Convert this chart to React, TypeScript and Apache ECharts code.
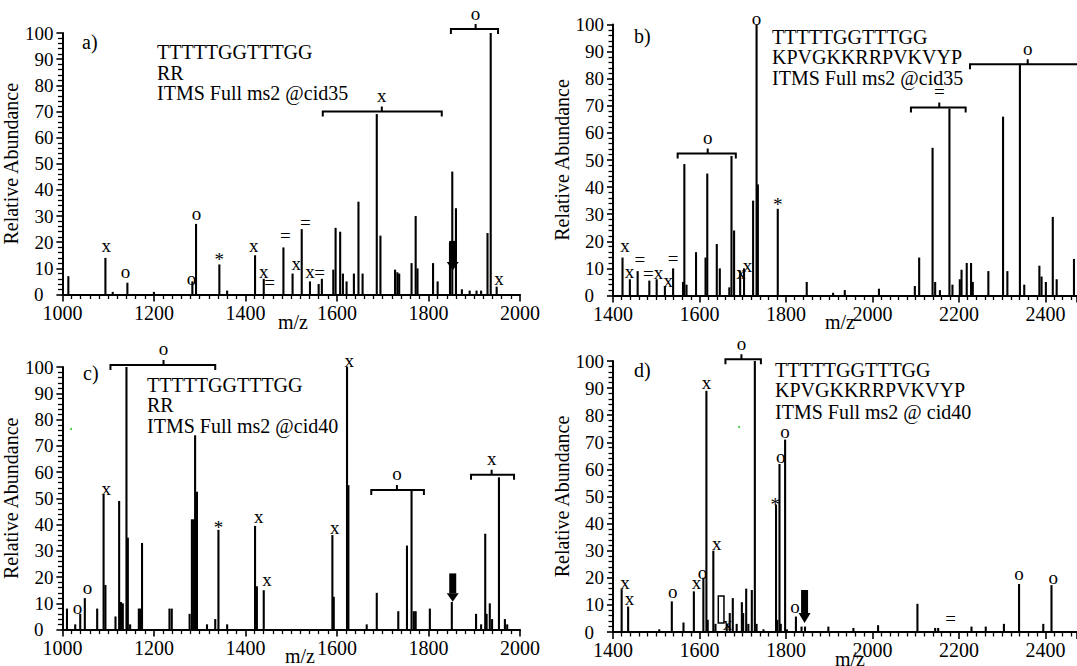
import React, { useEffect, useRef } from "react";
import * as echarts from "echarts";

// ---------- data: peaks [m/z, relative abundance] ----------
const peaksA: [number, number][] = [
  [1013, 7], [1094, 14], [1110, 1], [1142, 4.5], [1200, 1], [1284, 5], [1292, 27], [1343, 11.5], [1360, 1.5],
  [1421, 15], [1440, 6], [1483, 18], [1503, 8], [1523, 25], [1541, 5], [1560, 4], [1567, 6], [1592, 9.5],
  [1597, 25.5], [1607, 24], [1613, 8], [1621, 5], [1637, 8], [1647, 35.5], [1656, 8], [1687, 69], [1695, 22.5],
  [1727, 9.5], [1732, 8.5], [1736, 8], [1763, 12], [1772, 30], [1776, 10], [1810, 12], [1820, 5], [1847, 20],
  [1852, 47], [1860, 33], [1873, 2], [1890, 1.5], [1905, 1.5], [1915, 1.5], [1929, 23.5], [1936, 100], [1949, 3],
];
const peaksB: [number, number][] = [
  [1422, 14], [1439, 6], [1457, 9], [1484, 5.5], [1501, 6], [1520, 3.5], [1539, 10], [1562, 5], [1565, 48.5],
  [1570, 4], [1592, 16], [1614, 14], [1618, 45], [1640, 19], [1647, 10], [1669, 3], [1674, 51.5], [1680, 24],
  [1694, 9], [1703, 10], [1724, 35], [1732, 100], [1735, 41], [1781, 32], [1848, 5], [1909, 1], [1936, 2],
  [2015, 2.5], [2098, 3.5], [2108, 14], [2139, 54.5], [2145, 5], [2156, 2], [2178, 69], [2185, 4], [2202, 6],
  [2206, 9.5], [2218, 12], [2228, 12], [2232, 5], [2268, 9], [2302, 66], [2312, 9], [2341, 85.5], [2351, 4],
  [2386, 11], [2391, 7], [2401, 5], [2417, 29], [2426, 6], [2466, 13.5],
];
const peaksC: [number, number][] = [
  [1010, 8], [1028, 2], [1039, 6], [1049, 12], [1076, 8], [1090, 51.5], [1094, 17], [1116, 5], [1124, 49],
  [1128, 10.5], [1132, 10], [1140, 100], [1143, 35], [1148, 2], [1167, 8], [1170, 8], [1174, 33], [1234, 8],
  [1239, 8], [1278, 6], [1283, 42], [1287, 42], [1290, 74], [1294, 52.5], [1316, 2], [1334, 4], [1341, 38],
  [1360, 2], [1421, 39.5], [1425, 16.5], [1440, 15], [1590, 36], [1593, 12.5], [1622, 100], [1625, 55],
  [1665, 2], [1687, 14], [1734, 7], [1753, 32], [1763, 53], [1768, 7], [1772, 7], [1803, 8], [1851, 10.5],
  [1904, 6], [1915, 2], [1924, 36.5], [1927, 6], [1934, 10], [1939, 4], [1954, 58], [1967, 4], [1972, 2],
];
const peaksD: [number, number][] = [
  [1420, 15.8], [1435, 9.4], [1507, 1], [1536, 11.3], [1563, 3.5], [1587, 15], [1609, 20], [1616, 89],
  [1619, 4.5], [1632, 30], [1637, 3], [1663, 3], [1670, 7], [1677, 12.5], [1686, 3], [1698, 11], [1701, 7],
  [1708, 16], [1713, 3], [1721, 15.5], [1728, 100], [1732, 3], [1748, 1], [1777, 47], [1780, 4.5], [1785, 62],
  [1788, 3], [1798, 71], [1802, 1], [1823, 5.7], [1836, 2], [1844, 2], [1898, 2], [1956, 1.5], [2013, 2.5],
  [2104, 10.4], [2145, 1.5], [2152, 1.5], [2229, 2], [2262, 2], [2304, 3], [2339, 17.7], [2395, 3], [2414, 17.3],
];

// ---------- peak annotations [m/z, abundance, symbol] ----------
const annotA: [number, number, string][] = [
  [1096, 18, "x"], [1138, 8.2, "o"], [1282, 5.3, "o"], [1293, 30.3, "o"], [1343, 14.8, "*"], [1418, 18, "x"],
  [1440, 8.2, "x"], [1453, 4, "="], [1487, 21.8, "="], [1511, 11, "x"], [1531, 26.9, "="], [1541, 8.2, "x"],
  [1562, 7.8, "="], [1954, 5.3, "x"],
];
const annotB: [number, number, string][] = [
  [1428, 17.7, "x"], [1438, 8.3, "x"], [1462, 12.6, "="], [1482, 7.3, "="], [1505, 7.9, "x"], [1528, 4.9, "x"],
  [1539, 12.8, "="], [1696, 7.9, "x"], [1711, 10.4, "x"], [1732, 101.5, "o"], [1781, 35, "*"],
];
const annotC: [number, number, string][] = [
  [1033, 7.5, "o"], [1055, 15.3, "o"], [1096, 52.8, "x"], [1341, 40.5, "*"], [1429, 42.4, "x"], [1447, 18.3, "x"],
  [1595, 38.2, "x"], [1627, 101.8, "x"],
];
const annotD: [number, number, string][] = [
  [1428, 17.7, "x"], [1438, 11.8, "x"], [1538, 14.3, "o"], [1593, 17.7, "x"], [1607, 21.3, "o"], [1616, 91.5, "x"],
  [1640, 31.8, "x"], [1665, 2.5, "x"], [1775, 48.7, "*"], [1788, 64.1, "o"], [1798, 73.4, "o"], [1821, 8.7, "o"],
  [2181, 4.4, "="], [2339, 20.7, "o"], [2418, 19.5, "o"],
];

// ---------- brackets [from m/z, to m/z, notch m/z, abundance, symbol] ----------
const bracketsA: [number, number, number, number, string][] = [
  [1569, 1829, 1698, 70, "x"], [1849, 1952, 1903, 101.5, "o"],
];
const bracketsB: [number, number, number, number, string][] = [
  [1549.5, 1684, 1619, 52.4, "o"], [2089, 2215.5, 2154.5, 69.4, "="], [2225.5, 2700, 2359, 85.3, "o"],
];
const bracketsC: [number, number, number, number, string][] = [
  [1105, 1334, 1221, 100.8, "o"], [1675, 1790, 1731, 53.2, "o"], [1893, 1987, 1938, 59, "x"],
];
const bracketsD: [number, number, number, number, string][] = [[1660, 1742, 1697, 100.6, "o"]];

// ---------- precursor arrows [m/z, top, head start, tip] ----------
const arrowsA: [number, number, number, number][] = [[1853, 20.5, 12.4, 9.2]];
const arrowsB: [number, number, number, number][] = [];
const arrowsC: [number, number, number, number][] = [[1853, 21.4, 13.8, 10.6]];
const arrowsD: [number, number, number, number][] = [[1843, 15.5, 7, 3.3]];

// ---------- hollow marker [m/z from, m/z to, top, bottom] ----------
const boxesD: [number, number, number, number][] = [[1643.5, 1656.6, 13.3, 3.3]];

// ---------- texts ----------
const panelLetters = ["a)", "b)", "c)", "d)"];
const infoA = ["TTTTTGGTTTGG", "RR", "ITMS Full ms2 @cid35"];
const infoB = ["TTTTTGGTTTGG", "KPVGKKRRPVKVYP", "ITMS Full ms2 @cid35"];
const infoC = ["TTTTTGGTTTGG", "RR", "ITMS Full ms2 @cid40"];
const infoD = ["TTTTTGGTTTGG", "KPVGKKRRPVKVYP", "ITMS Full ms2 @ cid40"];
const xName = "m/z";
const yName = "Relative Abundance";

const FONT = "Liberation Serif";

const panels = [
  { peaks: peaksA, annots: annotA, brackets: bracketsA, arrows: arrowsA, boxes: [] as [number, number, number, number][],
    grid: { left: 62, top: 33, width: 458, height: 261.5 }, xMin: 1000, xMax: 2000, showMax: true },
  { peaks: peaksB, annots: annotB, brackets: bracketsB, arrows: arrowsB, boxes: [] as [number, number, number, number][],
    grid: { left: 613, top: 24.5, width: 464, height: 271 }, xMin: 1400, xMax: 2473, showMax: false },
  { peaks: peaksC, annots: annotC, brackets: bracketsC, arrows: arrowsC, boxes: [] as [number, number, number, number][],
    grid: { left: 62, top: 367, width: 458, height: 262.6 }, xMin: 1000, xMax: 2000, showMax: true },
  { peaks: peaksD, annots: annotD, brackets: bracketsD, arrows: arrowsD, boxes: boxesD,
    grid: { left: 613, top: 361, width: 464, height: 271 }, xMin: 1400, xMax: 2473, showMax: false },
];

const textLayout = [
  { letter: [82, 42], info: infoA, left: 157, lines: [52, 73, 93], mz: [293, 322] },
  { letter: [634, 36], info: infoB, left: 772, lines: [37, 57, 77.5], mz: [840, 322] },
  { letter: [83, 373], info: infoC, left: 147, lines: [385, 405, 426], mz: [300, 656] },
  { letter: [634, 370], info: infoD, left: 775, lines: [370, 390, 411.5], mz: [850, 659] },
];

const symFont = `19px "${FONT}"`;
const symOffset = (t: string) => (t === "*" ? 4 : -2);

function buildOption() {
  const series: any[] = [];
  panels.forEach((p, i) => {
    series.push({
      type: "custom", xAxisIndex: i, yAxisIndex: i, clip: false, data: p.peaks,
      renderItem: (params: any, api: any) => {
        const a = api.coord([api.value(0), 0]);
        const b = api.coord([api.value(0), api.value(1)]);
        return { type: "line", shape: { x1: a[0], y1: a[1], x2: b[0], y2: b[1] }, style: { stroke: "#000", lineWidth: 2.1 } };
      },
    });
    series.push({
      type: "custom", xAxisIndex: i, yAxisIndex: i, clip: false, data: p.annots.map((r) => [r[0], r[1]]),
      renderItem: (params: any, api: any) => {
        const r = p.annots[params.dataIndex];
        const c = api.coord([r[0], r[1]]);
        return { type: "text", x: c[0], y: c[1] + symOffset(r[2]),
          style: { text: r[2], font: symFont, fill: "#000", align: "center", verticalAlign: "middle" } };
      },
    });
    series.push({
      type: "custom", xAxisIndex: i, yAxisIndex: i, clip: false, data: p.brackets.map((r) => [r[2], r[3]]),
      renderItem: (params: any, api: any) => {
        const r = p.brackets[params.dataIndex];
        const a = api.coord([r[0], r[3]]);
        const b = api.coord([r[1], r[3]]);
        const c = api.coord([r[2], r[3]]);
        const y = a[1];
        return { type: "group", children: [
          { type: "polyline", shape: { points: [[a[0], y + 5], [a[0], y], [c[0], y], [c[0], y - 5], [c[0], y], [b[0], y], [b[0], y + 5]] },
            style: { stroke: "#000", lineWidth: 2, fill: null } },
          { type: "text", x: c[0], y: y - 14 + symOffset(r[4]),
            style: { text: r[4], font: symFont, fill: "#000", align: "center", verticalAlign: "middle" } },
        ] };
      },
    });
    if (p.arrows.length) {
      series.push({
        type: "custom", xAxisIndex: i, yAxisIndex: i, clip: false, data: p.arrows.map((r) => [r[0], r[1]]),
        renderItem: (params: any, api: any) => {
          const r = p.arrows[params.dataIndex];
          const t = api.coord([r[0], r[1]]);
          const h = api.coord([r[0], r[2]]);
          const b = api.coord([r[0], r[3]]);
          return { type: "group", children: [
            { type: "rect", shape: { x: t[0] - 3.5, y: t[1], width: 7, height: h[1] - t[1] }, style: { fill: "#000" } },
            { type: "polygon", shape: { points: [[t[0] - 6, h[1]], [t[0] + 6, h[1]], [t[0], b[1]]] }, style: { fill: "#000" } },
          ] };
        },
      });
    }
    if (p.boxes.length) {
      series.push({
        type: "custom", xAxisIndex: i, yAxisIndex: i, clip: false, data: p.boxes.map((r) => [r[0], r[2]]),
        renderItem: (params: any, api: any) => {
          const r = p.boxes[params.dataIndex];
          const a = api.coord([r[0], r[2]]);
          const b = api.coord([r[1], r[3]]);
          return { type: "rect", shape: { x: a[0], y: a[1], width: b[0] - a[0], height: b[1] - a[1] },
            style: { stroke: "#000", lineWidth: 1.5, fill: "#fff" } };
        },
      });
    }
  });

  const graphic: any[] = [];
  textLayout.forEach((t, i) => {
    graphic.push({ type: "text", x: t.letter[0], y: t.letter[1],
      style: { text: panelLetters[i], font: `20px "${FONT}"`, fill: "#000", verticalAlign: "middle" } });
    t.info.forEach((line, k) => {
      graphic.push({ type: "text", x: t.left, y: t.lines[k],
        style: { text: line, font: `20px "${FONT}"`, fill: "#000", verticalAlign: "middle" } });
    });
    graphic.push({ type: "text", x: t.mz[0], y: t.mz[1],
      style: { text: xName, font: `20px "${FONT}"`, fill: "#000", align: "center", verticalAlign: "middle" } });
  });
  graphic.push({ type: "circle", shape: { cx: 71, cy: 429, r: 1 }, style: { fill: "#33cc33" } });
  graphic.push({ type: "circle", shape: { cx: 739, cy: 427, r: 1 }, style: { fill: "#33cc33" } });

  return {
    animation: false,
    backgroundColor: "#fff",
    textStyle: { fontFamily: FONT },
    grid: panels.map((p) => ({ ...p.grid, containLabel: false })),
    xAxis: panels.map((p, i) => ({
      type: "value", gridIndex: i, min: p.xMin, max: p.xMax, interval: 200,
      axisLine: { show: true, onZero: false, lineStyle: { color: "#000", width: 2 } },
      axisTick: { show: true, length: 7, lineStyle: { color: "#000", width: 1.6 } },
      minorTick: { show: true, splitNumber: 10, length: 4.5, lineStyle: { color: "#000", width: 1.3 } },
      axisLabel: { fontSize: 20, fontFamily: FONT, color: "#000", margin: 8, showMaxLabel: p.showMax,
        formatter: (v: number) => String(v) },
      splitLine: { show: false },
      minorSplitLine: { show: false },
    })),
    yAxis: panels.map((p, i) => ({
      type: "value", gridIndex: i, min: 0, max: 100, interval: 10,
      name: yName, nameLocation: "middle", nameGap: 35,
      nameTextStyle: { fontSize: 20, fontFamily: FONT, color: "#000" },
      axisLine: { show: true, lineStyle: { color: "#000", width: 2 } },
      axisTick: { show: true, length: 6, lineStyle: { color: "#000", width: 1.6 } },
      minorTick: { show: true, splitNumber: 5, length: 4.5, lineStyle: { color: "#000", width: 1.3 } },
      axisLabel: { fontSize: 19, fontFamily: FONT, color: "#000", margin: 9,
        formatter: (v: number) => (v === 0 ? "{z|0}" : String(v)),
        rich: { z: { fontSize: 19, fontFamily: FONT, color: "#000", padding: [0, 10, 0, 0] } } },
      splitLine: { show: false },
      minorSplitLine: { show: false },
    })),
    graphic,
    series,
  };
}

export default function App() {
  const ref = useRef<HTMLDivElement>(null);
  useEffect(() => {
    const chart = echarts.init(ref.current!, null, { renderer: "svg" });
    chart.setOption(buildOption() as any);
    return () => chart.dispose();
  }, []);
  return (
    <div
      ref={ref}
      style={{ position: "fixed", left: 0, top: 0, width: 1077, height: 666, background: "#fff" }}
    />
  );
}
